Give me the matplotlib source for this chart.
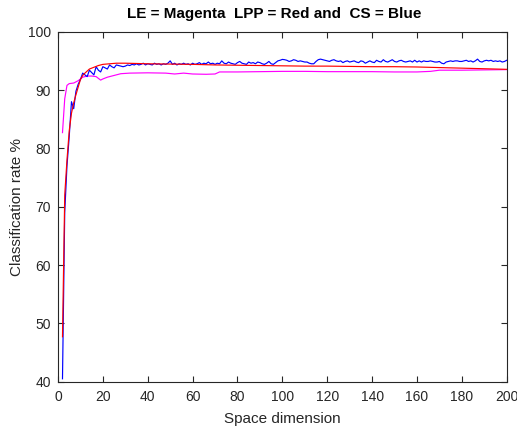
import numpy as np
import matplotlib
matplotlib.use("Agg")
import matplotlib.pyplot as plt

# CS (blue), one value per dimension 2..200
cs_vals = [
    40.5, 69.0, 77.0, 82.0, 88.0, 86.8, 89.8, 91.0, 91.8, 92.9,   # 2-11
    92.6, 92.3, 93.4, 93.0, 92.6, 94.0, 93.4, 93.1, 94.0, 93.8,   # 12-21
    93.6, 94.3, 94.0, 93.8, 94.3,                                 # 22-26
    94.2, 94.1, 94.0, 94.1, 94.3, 94.2, 94.4, 94.3, 94.5, 94.3,   # 27-36
    94.4, 94.6, 94.3, 94.5, 94.4, 94.3, 94.6, 94.4, 94.5, 94.3,   # 37-46
    94.5, 94.4, 94.6, 95.0, 94.4, 94.6, 94.3, 94.5, 94.4, 94.6,   # 47-56
    94.4, 94.5, 94.3, 94.6, 94.4, 94.5, 94.7, 94.4, 94.6, 94.5,   # 57-66
    94.8, 94.5, 94.6, 94.4,                                       # 67-70
    94.6, 94.5, 95.0, 94.6, 94.5, 94.8, 94.6, 94.5, 94.4, 94.7,   # 71-80
    94.9, 94.6, 94.5, 94.4, 94.8, 94.6, 94.7, 94.5, 94.8, 94.7,   # 81-90
    94.5, 94.4, 94.6, 94.9, 94.5, 94.4, 94.7, 95.0, 95.1, 95.25,  # 91-100
    95.2, 95.1, 94.9, 95.0, 95.2, 95.1, 94.9, 95.0, 94.9, 94.8,   # 101-110
    94.8, 94.6, 94.5,                                             # 111-113
    94.5, 94.9, 95.2, 95.3, 95.2, 95.1, 95.0, 94.9, 95.1, 95.2,   # 114-123
    95.0, 94.9, 95.0, 94.7, 94.9, 95.0, 94.8, 94.9, 95.0, 94.8,   # 124-133
    94.7, 95.0, 94.9, 94.6, 94.8, 95.0, 94.8, 94.7, 95.1, 94.9,   # 134-143
    94.8, 95.2, 94.9, 94.8, 95.0, 95.2, 94.9, 94.8, 95.0, 95.1,   # 144-153
    94.9, 94.8, 94.9, 95.0,                                       # 154-157
    94.8, 95.1, 94.8, 95.0, 94.8, 95.0, 94.9, 94.9, 95.0, 94.9,   # 158-167
    94.8, 94.8, 94.9, 94.6, 94.5, 94.8, 94.9, 95.0, 94.9, 95.0,   # 168-177
    95.0, 94.9, 94.9, 95.0, 95.1, 94.9, 95.0, 94.8, 95.0, 95.3,   # 178-187
    94.9, 94.8, 95.0, 95.1, 95.0, 95.1, 94.9, 95.0, 94.9, 95.0,   # 188-197
    94.8, 94.9, 95.1,                                             # 198-200
]
cs_dims = list(range(2, 2 + len(cs_vals)))

# LPP (red)
lpp_dims = [2, 3, 4, 5, 6, 7, 8, 9, 10, 11, 12, 14, 16, 18, 20, 23, 26, 30,
            40, 50, 60, 70, 80, 90, 100, 110, 120, 130, 140, 150, 160, 170,
            180, 190, 200]
lpp_vals = [47.7, 72.0, 78.0, 83.0, 86.0, 87.8, 89.2, 90.5, 91.8, 92.5, 92.9,
            93.6, 93.9, 94.2, 94.4, 94.5, 94.6, 94.6, 94.5, 94.45, 94.4, 94.3,
            94.25, 94.2, 94.15, 94.1, 94.1, 94.05, 94.0, 94.0, 93.95, 93.85,
            93.75, 93.65, 93.55]

# LE (magenta)
le_dims = [2, 3, 4, 5, 7, 9, 11, 13, 15, 17, 18, 19, 20, 22, 25, 28, 32, 40,
           48, 52, 56, 60, 66, 70, 72, 80, 90, 100, 110, 120, 130, 140, 150,
           160, 166, 170, 180, 190, 200]
le_vals = [82.7, 88.5, 90.8, 91.1, 91.2, 91.6, 92.2, 92.4, 92.4, 92.3, 92.0,
           91.7, 91.9, 92.2, 92.5, 92.8, 92.9, 92.95, 92.9, 92.75, 92.9,
           92.75, 92.7, 92.75, 93.1, 93.1, 93.15, 93.2, 93.2, 93.15, 93.15,
           93.15, 93.1, 93.1, 93.2, 93.4, 93.4, 93.45, 93.5]

title = "LE = Magenta  LPP = Red and  CS = Blue"
xlabel = "Space dimension"
ylabel = "Classification rate %"
xticks = [0, 20, 40, 60, 80, 100, 120, 140, 160, 180, 200]
yticks = [40, 50, 60, 70, 80, 90, 100]

plt.rcParams['font.family'] = ['Liberation Sans', 'DejaVu Sans']

fig = plt.figure(figsize=(5.17, 4.28), dpi=100)
ax = fig.add_axes([58/517, 1 - 381.7/428, (506.7 - 58)/517, (381.7 - 31.7)/428])

ax.plot(le_dims, le_vals, color=(1, 0, 1), lw=0.85)
ax.plot(cs_dims, cs_vals, color=(0, 0, 1), lw=0.85)
ax.plot(lpp_dims, lpp_vals, color=(1, 0, 0), lw=0.85)

ax.set_xlim(0, 200)
ax.set_ylim(40, 100)
ax.set_xticks(xticks)
ax.set_yticks(yticks)
dark = '#262626'
ax.tick_params(direction='in', top=True, right=True, length=4, width=0.8,
               colors=dark, labelsize=10, labelcolor=dark)
ax.tick_params(axis='x', pad=6)
ax.tick_params(axis='y', pad=5)
for s in ax.spines.values():
    s.set_color(dark)
    s.set_linewidth(0.8)

ax.set_title(title, fontsize=11, fontweight='bold', color='black', pad=10,
             x=0.482)
ax.set_xlabel(xlabel, fontsize=11, color=dark, labelpad=6)
ax.set_ylabel(ylabel, fontsize=11, color=dark, labelpad=3)

fig.savefig("out.png", dpi=100)
